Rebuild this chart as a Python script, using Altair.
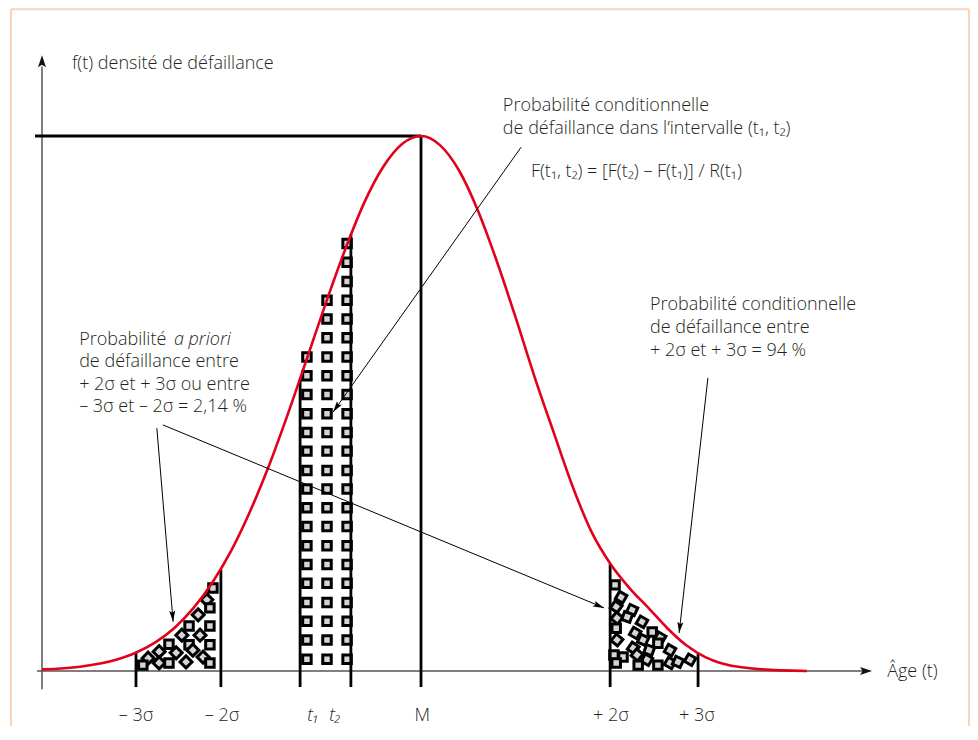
import math
import altair as alt
import pandas as pd

# ---------------- data (age in arbitrary units, M = 100; density with peak = 100) -------------
curve_age = [0, 10, 20, 25, 30, 35, 40, 45, 50, 55, 60, 65, 70, 75, 80, 85, 90, 95, 100,
             105, 110, 115, 120, 125, 130, 135, 140, 145, 150, 155, 160, 165, 170, 175, 180, 190, 201.8]
curve_dens = [0.3, 0.8, 2.2, 3.5, 5.4, 8.1, 11.8, 16.6, 22.6, 30.0, 38.6, 48.3, 58.6, 69.0, 78.8, 87.5, 94.2, 98.5, 100,
              98.3, 93.6, 86.1, 76.6, 66.0, 54.9, 44.6, 34.5, 26.0, 20.0, 15.5, 11.8, 8.0, 4.8, 2.6, 1.3, 0.3, 0.0]

mark_labels = ["– 3σ", "– 2σ", "t₁", "t₂", "M", "+ 2σ", "+ 3σ"]
mark_age = [24.8, 47.2, 68.1, 81.5, 100, 149.9, 173.1]
mark_top = [3.5, 19.0, 54.6, 81.6, 100, 20.0, 3.2]
label_age = [24.8, 47.5, 71.5, 77.3, 100.3, 150.1, 172.8]

# squares between t1 and t2
mid_cols = [69.9, 75.2, 80.5]
mid_rows = [2.2, 5.8, 9.3, 12.8, 16.4, 19.9, 23.4, 27.0, 30.5, 34.0, 37.5, 41.1,
            44.6, 48.1, 51.7, 55.2, 58.7, 62.3, 65.8, 69.3, 72.8, 76.4, 79.9]
mid_rows_per_col = [17, 20, 23]

# squares in the left tail (-3σ .. -2σ)
left_sq_age = [45.1, 43.5, 44.3, 41.2, 38.8, 44.3, 36.9, 41.7, 33.5, 38.8, 44.3, 30.9, 35.4,
               39.8, 42.5, 28.0, 30.9, 33.5, 38.0, 44.3, 26.6]
left_sq_dens = [15.5, 13.3, 11.8, 10.5, 8.4, 8.4, 6.7, 6.7, 5.0, 4.9, 4.9, 3.6, 3.4,
                3.9, 2.6, 2.4, 1.5, 1.5, 1.7, 1.5, 1.1]
left_sq_rot = [0, 45, 0, 45, 0, 0, 45, 45, 0, 0, 0, 45, 45, 45, 45, 45, 45, 0, 45, 0, 0]

# squares in the right tail (+2σ .. +3σ)
right_sq_age = [151.2, 152.8, 151.5, 155.7, 151.7, 154.4, 158.3, 151.5, 156.5, 161.0, 163.1, 151.7,
                158.6, 162.5, 156.0, 160.2, 165.7, 150.9, 153.3, 157.0, 159.6, 157.3, 162.5, 165.7,
                167.8, 171.0, 151.5]
right_sq_dens = [16.1, 13.8, 12.0, 11.4, 9.9, 10.1, 9.2, 8.0, 7.1, 7.3, 6.2, 5.8,
                 5.8, 5.2, 4.3, 3.9, 3.9, 3.0, 2.6, 3.0, 2.1, 1.1, 1.1, 1.5,
                 1.7, 2.1, 1.5]
right_sq_rot = [0, 30, 35, 25, 40, 20, 30, 0, 30, 0, 30, 40,
                25, 0, 35, 20, 30, 0, 0, 40, 30, 0, 0, 30,
                25, 30, 0]

# annotation arrows: start (age, dens) -> end (age, dens)
arrow_x1 = [126.4, 30.3, 31.9, 175.7]
arrow_y1 = [97.9, 45.4, 46.0, 54.8]
arrow_x2 = [76.8, 34.6, 148.3, 168.1]
arrow_y2 = [48.4, 9.2, 11.8, 7.1]

# text blocks
top_text = ["Probabilité conditionnelle", "de défaillance dans l’intervalle (t₁, t₂)"]
formula = "F(t₁, t₂) = [F(t₂) – F(t₁)] / R(t₁)"
left_text = ["de défaillance entre", "+ 2σ et + 3σ  ou entre", "– 3σ et – 2σ = 2,14 %"]
right_text = ["Probabilité conditionnelle", "de défaillance entre", "+ 2σ et + 3σ = 94 %"]

# ---------------- layout -------------
W, H = 962, 718
XMIN, XMAX = -8.97, 244.85
YMIN, YMAX = -10.28, 123.93
PX_X = W / (XMAX - XMIN)
PX_Y = H / (YMAX - YMIN)

FONT = "Open Sans"
FS = 18
TXT = "#231f20"
RED = "#e2001a"

xs = alt.Scale(domain=[XMIN, XMAX], nice=False, zero=False)
ys = alt.Scale(domain=[YMIN, YMAX], nice=False, zero=False)


def X(f="x"):
    return alt.X(f"{f}:Q", scale=xs, axis=None)


def Y(f="y"):
    return alt.Y(f"{f}:Q", scale=ys, axis=None)


def angle_of(x1, y1, x2, y2):
    return math.degrees(math.atan2((x2 - x1) * PX_X, (y2 - y1) * PX_Y)) % 360


# frame
frame = pd.DataFrame({"x": [-8.18, -8.18, 244.6], "y": [-20, 123.7, 123.7],
                      "x2": [-8.18, 244.6, 244.6], "y2": [123.7, 123.7, -20]})
frame_l = alt.Chart(frame).mark_rule(color="#f8d3b8", strokeWidth=2).encode(
    x=X(), y=Y(), x2="x2:Q", y2="y2:Q")

# axes
axes = pd.DataFrame({"x": [0, -1.3], "y": [-3.4, 0], "x2": [0, 217], "y2": [113, 0]})
axes_l = alt.Chart(axes).mark_rule(color="#555555", strokeWidth=1.5).encode(
    x=X(), y=Y(), x2="x2:Q", y2="y2:Q")
axis_heads = pd.DataFrame({"x": [0, 219.0], "y": [115.1, 0], "a": [0, 90]})
axis_heads_l = alt.Chart(axis_heads).mark_point(
    shape="M0,0 L0.8,2.4 L0,1.9 L-0.8,2.4 Z", filled=True, color="#111111",
    size=100, opacity=1, strokeWidth=0).encode(x=X(), y=Y(), angle=alt.Angle("a:Q", scale=None))

# squares
mid_x, mid_y = [], []
for cx, n in zip(mid_cols, mid_rows_per_col):
    for ry in mid_rows[:n]:
        mid_x.append(cx)
        mid_y.append(ry)
sq = pd.DataFrame({
    "x": mid_x + left_sq_age + right_sq_age,
    "y": mid_y + left_sq_dens + right_sq_dens,
    "r": [0] * len(mid_x) + left_sq_rot + right_sq_rot,
})
sq_l = alt.Chart(sq).mark_point(shape="square", filled=True, fill="#d5d5d5", stroke="#000000",
                                strokeWidth=3, size=72, opacity=1).encode(
    x=X(), y=Y(), angle=alt.Angle("r:Q", scale=None))

# black vertical lines and peak line
vl = pd.DataFrame({"x": mark_age + [-1.85], "y": [-3.0] * len(mark_age) + [100],
                   "x2": mark_age + [100], "y2": mark_top + [100]})
vl_l = alt.Chart(vl).mark_rule(color="#000000", strokeWidth=2.8).encode(
    x=X(), y=Y(), x2="x2:Q", y2="y2:Q")

# curve
cv = pd.DataFrame({"x": curve_age, "y": curve_dens})
cv_l = alt.Chart(cv).mark_line(color=RED, strokeWidth=2.6, interpolate="monotone").encode(
    x=X(), y=Y())

# arrows
ar = pd.DataFrame({"x": arrow_x1, "y": arrow_y1, "x2": arrow_x2, "y2": arrow_y2})
ar["a"] = [angle_of(a, b, c, d) for a, b, c, d in zip(arrow_x1, arrow_y1, arrow_x2, arrow_y2)]
ar_l = alt.Chart(ar).mark_rule(color="#000000", strokeWidth=1).encode(
    x=X(), y=Y(), x2="x2:Q", y2="y2:Q")
ah_l = alt.Chart(ar).mark_point(
    shape="M0,0 L0.6,2.2 L0,1.8 L-0.6,2.2 Z", filled=True, color="#000000",
    size=100, opacity=1, strokeWidth=0).encode(
    x=X("x2"), y=Y("y2"), angle=alt.Angle("a:Q", scale=None))

# texts (left aligned)
txt_rows = []
txt_rows.append({"x": 7.9, "y": 113.5, "t": "f(t) densité de défaillance"})
txt_rows.append({"x": 121.6, "y": 105.6, "t": top_text[0]})
txt_rows.append({"x": 121.6, "y": 101.3, "t": top_text[1]})
txt_rows.append({"x": 129.0, "y": 93.3, "t": formula})
txt_rows.append({"x": 9.8, "y": 61.9, "t": "Probabilité"})
for t, yy in zip(left_text, [57.8, 53.5, 49.3]):
    txt_rows.append({"x": 9.8, "y": yy, "t": t})
for t, yy in zip(right_text, [68.4, 64.1, 59.8]):
    txt_rows.append({"x": 160.4, "y": yy, "t": t})
txt_rows.append({"x": 223.0, "y": -0.2, "t": "Âge (t)"})
tl = alt.Chart(pd.DataFrame(txt_rows)).mark_text(
    align="left", baseline="middle", font=FONT, fontSize=FS, fontWeight=300, color=TXT).encode(
    x=X(), y=Y(), text="t:N")

it = pd.DataFrame({"x": [34.8], "y": [61.9], "t": ["a priori"]})
it_l = alt.Chart(it).mark_text(
    align="left", baseline="middle", font=FONT, fontSize=FS, fontWeight=300, fontStyle="italic",
    color=TXT).encode(x=X(), y=Y(), text="t:N")

# bottom tick labels
bl = pd.DataFrame({"x": label_age, "y": [-8.4] * len(label_age), "t": mark_labels,
                   "st": ["normal", "normal", "italic", "italic", "normal", "normal", "normal"]})
bl_n = alt.Chart(bl[bl.st == "normal"]).mark_text(
    align="center", baseline="middle", font=FONT, fontSize=18, fontWeight=300, color=TXT).encode(
    x=X(), y=Y(), text="t:N")
bl_i = alt.Chart(bl[bl.st == "italic"]).mark_text(
    align="center", baseline="middle", font=FONT, fontSize=18, fontWeight=300, fontStyle="italic",
    color=TXT).encode(x=X(), y=Y(), text="t:N")

chart = alt.layer(
    frame_l, axes_l, sq_l, vl_l, cv_l, ar_l, ah_l, axis_heads_l, tl, it_l, bl_n, bl_i
).properties(
    width=W, height=H, autosize=alt.AutoSizeParams(type="none"), padding=0
).configure_view(stroke=None)

chart.save("out.html", embed_options={"renderer": "svg", "actions": False})
